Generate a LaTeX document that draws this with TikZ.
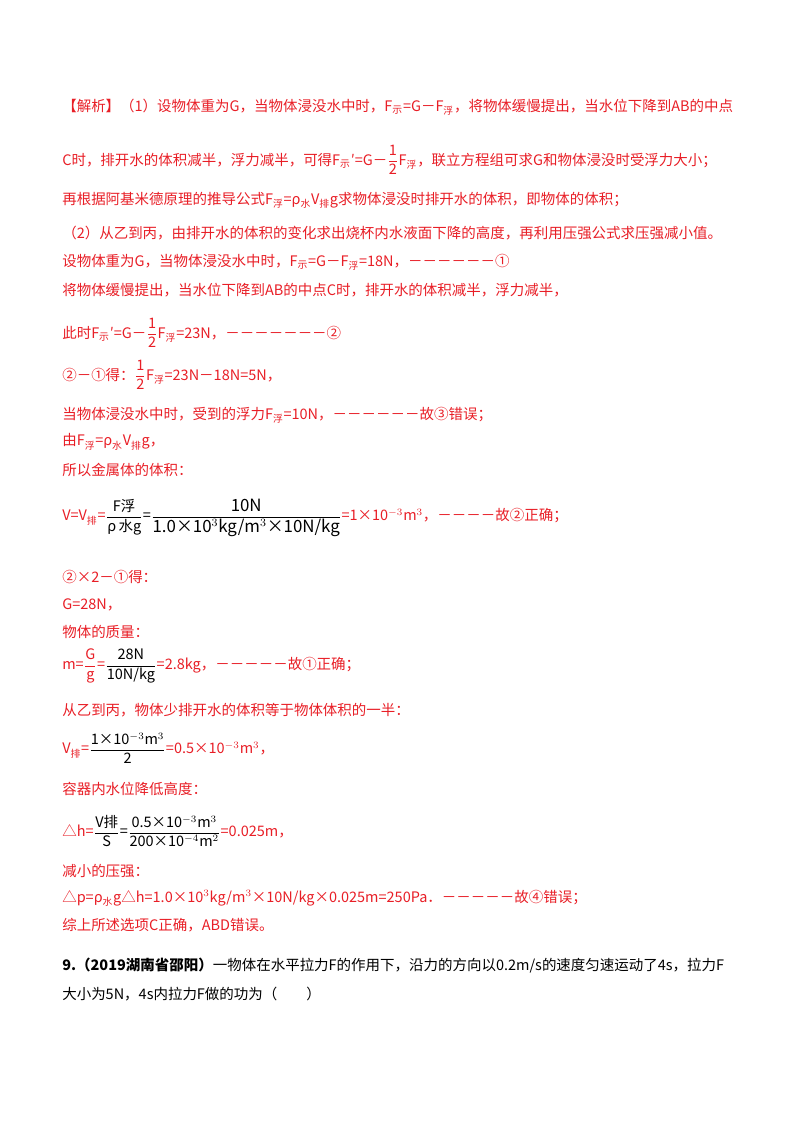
\documentclass[tikz,border=0pt]{standalone}
\usepackage{fontspec}
\setmainfont{Noto Sans CJK SC}
\usetikzlibrary{positioning}
\definecolor{anred}{RGB}{232,30,38}
\newcommand{\sub}[1]{\textsubscript{\scriptsize #1}}
\newcommand{\fr}[2]{$\dfrac{\text{#1}}{\text{#2}}$}
\usepackage{amsmath}

\begin{document}
\begin{tikzpicture}[x=0.025cm,y=-0.025cm,
  txt/.style={anchor=west, inner sep=0pt, text=anred, font=\fontsize{10.3}{12}\selectfont},
  blk/.style={txt, text=black}]
\useasboundingbox (0,0) rectangle (800,1132);

% analysis part
\node[txt] (l1) at (62,107) {【解析】（1）设物体重为G，当物体浸没水中时，F\sub{示}=G－F\sub{浮}，将物体缓慢提出，当水位下降到AB的中点};
\node[txt] (l2) at (62,160) {C时，排开水的体积减半，浮力减半，可得F\sub{示}′=G－\fr{1}{2}F\sub{浮}，联立方程组可求G和物体浸没时受浮力大小；};
\node[txt] (l3) at (62,200) {再根据阿基米德原理的推导公式F\sub{浮}=ρ\sub{水}V\sub{排}g求物体浸没时排开水的体积，即物体的体积；};
\node[txt] (l4) at (62,233) {（2）从乙到丙，由排开水的体积的变化求出烧杯内水液面下降的高度，再利用压强公式求压强减小值。};
\node[txt] (l5) at (62,262) {设物体重为G，当物体浸没水中时，F\sub{示}=G－F\sub{浮}=18N，－－－－－－①};
\node[txt] (l6) at (62,290) {将物体缓慢提出，当水位下降到AB的中点C时，排开水的体积减半，浮力减半，};
\node[txt] (l7) at (62,333) {此时F\sub{示}′=G－\fr{1}{2}F\sub{浮}=23N，－－－－－－－②};
\node[txt] (l8) at (62,375) {②－①得：\fr{1}{2}F\sub{浮}=23N－18N=5N，};
\node[txt] (l9) at (62,415) {当物体浸没水中时，受到的浮力F\sub{浮}=10N，－－－－－－故③错误；};
\node[txt] (l10) at (62,442) {由F\sub{浮}=ρ\sub{水}V\sub{排}g，};
\node[txt] (l11) at (62,470) {所以金属体的体积：};
\node[txt] (l12) at (62,518) {V=V\sub{排}=\textcolor{black}{\fr{F浮}{ρ\,水g}=\fr{\large 10N}{\large 1.0×10$^3$kg/m$^3$×10N/kg}}=1×10$^{-3}$m$^3$，－－－－故②正确；};
\node[txt] (l13) at (62,577) {②×2－①得：};
\node[txt] (l14) at (62,605) {G=28N，};
\node[txt] (l15) at (62,632) {物体的质量：};
\node[txt] (l16) at (62,666) {m=\fr{G}{g}=\textcolor{black}{\fr{28N}{10N/kg}}=2.8kg，－－－－－故①正确；};
\node[txt] (l17) at (62,710) {从乙到丙，物体少排开水的体积等于物体体积的一半：};
\node[txt] (l18) at (62,748) {V\sub{排}=\textcolor{black}{\fr{1×10$^{-3}$m$^3$}{2}}=0.5×10$^{-3}$m$^3$，};
\node[txt] (l19) at (62,789) {容器内水位降低高度：};
\node[txt] (l20) at (62,831) {△h=\textcolor{black}{\fr{V排}{S}=\fr{0.5×10$^{-3}$m$^3$}{200×10$^{-4}$m$^2$}}=0.025m，};
\node[txt] (l21) at (62,871) {减小的压强：};
\node[txt] (l22) at (62,898) {△p=ρ\sub{水}g△h=1.0×10$^3$kg/m$^3$×10N/kg×0.025m=250Pa．－－－－－故④错误；};
\node[txt] (l23) at (62,925) {综上所述选项C正确，ABD错误。};

% next question
\node[blk] (q9a) at (62,966) {\textbf{9.（2019湖南省邵阳）}一物体在水平拉力F的作用下，沿力的方向以0.2m/s的速度匀速运动了4s，拉力F};
\node[blk] (q9b) at (62,994) {大小为5N，4s内拉力F做的功为（\quad\quad）};
\end{tikzpicture}
\end{document}
